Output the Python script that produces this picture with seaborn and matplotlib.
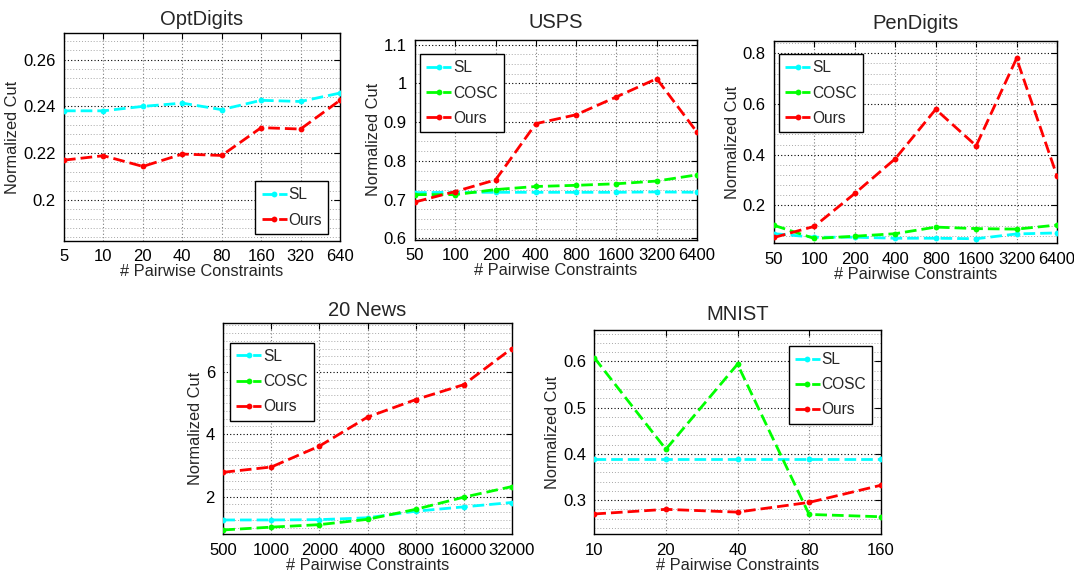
import matplotlib
matplotlib.use("Agg")
import matplotlib.pyplot as plt
import numpy as np
import pandas as pd
import seaborn as sns
from matplotlib.lines import Line2D
from matplotlib.ticker import FixedLocator, MultipleLocator

# ---------------- data ----------------
opt_x = ["5", "10", "20", "40", "80", "160", "320", "640"]
opt_sl = [0.2381, 0.2381, 0.2400, 0.2414, 0.2386, 0.2426, 0.2421, 0.2457]
opt_ours = [0.2170, 0.2189, 0.2143, 0.2196, 0.2190, 0.2309, 0.2303, 0.2426]

usps_x = ["50", "100", "200", "400", "800", "1600", "3200", "6400"]
usps_sl = [0.718, 0.719, 0.719, 0.719, 0.719, 0.719, 0.720, 0.719]
usps_cosc = [0.713, 0.713, 0.726, 0.734, 0.737, 0.741, 0.748, 0.764]
usps_ours = [0.694, 0.721, 0.751, 0.896, 0.919, 0.965, 1.012, 0.874]

pen_x = ["50", "100", "200", "400", "800", "1600", "3200", "6400"]
pen_sl = [0.088, 0.074, 0.074, 0.070, 0.070, 0.068, 0.087, 0.091]
pen_cosc = [0.121, 0.069, 0.078, 0.088, 0.114, 0.108, 0.106, 0.122]
pen_ours = [0.073, 0.117, 0.247, 0.384, 0.579, 0.435, 0.780, 0.316]

news_x = ["500", "1000", "2000", "4000", "8000", "16000", "32000"]
news_sl = [1.25, 1.25, 1.26, 1.32, 1.53, 1.67, 1.81]
news_cosc = [0.93, 1.02, 1.10, 1.27, 1.59, 1.98, 2.32]
news_ours = [2.78, 2.95, 3.62, 4.55, 5.11, 5.59, 6.75]

mnist_x = ["10", "20", "40", "80", "160"]
mnist_sl = [0.388, 0.388, 0.388, 0.388, 0.388]
mnist_cosc = [0.608, 0.410, 0.594, 0.269, 0.264]
mnist_ours = [0.270, 0.280, 0.274, 0.295, 0.332]

# y-axis tick labels per panel
opt_yticks = [0.2, 0.22, 0.24, 0.26]
usps_yticks = [0.6, 0.7, 0.8, 0.9, 1.0, 1.1]
pen_yticks = [0.2, 0.4, 0.6, 0.8]
news_yticks = [2, 4, 6]
mnist_yticks = [0.3, 0.4, 0.5, 0.6]

# ---------------- style ----------------
sns.set_style("white")
plt.rcParams["font.family"] = ["Liberation Sans", "DejaVu Sans"]

COLORS = {"SL": "#00ffff", "COSC": "#00ff00", "Ours": "#ff0000"}
LW = 2.0          # points
DASH = (4.2, 1.8) # in units of line width
MS = 4.2

W, H = 1074, 572

panels = [
    dict(title="OptDigits", ticks=opt_x, yticks=opt_yticks,
         series={"SL": opt_sl, "Ours": opt_ours},
         ylim=(0.1824, 0.2714), minor=0.004, box=(64, 33, 340, 241),
         title_gap=8, legend=("lower right", (0.957, 0.034))),
    dict(title="USPS", ticks=usps_x, yticks=usps_yticks,
         series={"SL": usps_sl, "COSC": usps_cosc, "Ours": usps_ours},
         ylim=(0.596, 1.113), minor=0.025, box=(415, 39.5, 697, 240),
         title_gap=11, legend=("upper left", (0.018, 0.927))),
    dict(title="PenDigits", ticks=pen_x, yticks=pen_yticks,
         series={"SL": pen_sl, "COSC": pen_cosc, "Ours": pen_ours},
         ylim=(0.05, 0.85), minor=0.04, box=(774, 40.7, 1057, 243.3),
         title_gap=12, legend=("upper left", (0.018, 0.934))),
    dict(title="20 News", ticks=news_x, yticks=news_yticks,
         series={"SL": news_sl, "COSC": news_cosc, "Ours": news_ours},
         ylim=(0.79, 7.56), minor=0.25, box=(223.3, 323.3, 511.7, 534.3),
         title_gap=7, legend=("upper left", (0.023, 0.908))),
    dict(title="MNIST", ticks=mnist_x, yticks=mnist_yticks,
         series={"SL": mnist_sl, "COSC": mnist_cosc, "Ours": mnist_ours},
         ylim=(0.226, 0.668), minor=0.02, box=(594.3, 330, 880.7, 534.3),
         title_gap=10, legend=("upper right", (0.971, 0.923))),
]

fig = plt.figure(figsize=(W / 100, H / 100), dpi=100)
px2pt = 72 / 100

for p in panels:
    l, t, r, b = p["box"]
    ax = fig.add_axes([l / W, 1 - b / H, (r - l) / W, (b - t) / H])

    rows = []
    for name, vals in p["series"].items():
        for i, v in enumerate(vals):
            rows.append({"pos": i, "value": v, "method": name})
    df = pd.DataFrame(rows)
    names = list(p["series"].keys())

    ax.set_axisbelow(True)
    sns.lineplot(
        data=df, x="pos", y="value", hue="method", style="method",
        hue_order=names, style_order=names,
        palette={n: COLORS[n] for n in names},
        dashes={n: DASH for n in names},
        markers={n: "o" for n in names},
        markersize=MS, markeredgewidth=0, linewidth=LW,
        sort=False, legend=False, ax=ax, zorder=3,
    )

    n = len(p["ticks"])
    ax.set_xlim(0, n - 1)
    ax.xaxis.set_major_locator(FixedLocator(range(n)))
    ax.set_xticklabels(p["ticks"])
    ax.set_ylim(*p["ylim"])
    ax.yaxis.set_major_locator(FixedLocator(p["yticks"]))
    ax.set_yticklabels([f"{v:g}" for v in p["yticks"]])
    ax.yaxis.set_minor_locator(MultipleLocator(p["minor"]))

    ax.grid(which="minor", axis="y", color="#a8a8a8", linestyle=(0, (1, 2)), linewidth=0.7)
    ax.grid(which="major", axis="y", color="black", linestyle=(0, (1, 2)), linewidth=0.8)
    ax.grid(which="major", axis="x", color="#7a7a7a", linestyle=(0, (1, 2)), linewidth=0.8)

    ax.tick_params(which="major", direction="in", length=4, width=0.8,
                   top=True, right=True, labelsize=12, pad=6, colors="black")
    ax.tick_params(which="minor", length=0)
    for s in ax.spines.values():
        s.set_color("black")
        s.set_linewidth(1.0)

    ax.set_xlabel("# Pairwise Constraints", fontsize=11.8, labelpad=0)
    ax.set_ylabel("Normalized Cut", fontsize=11.8, labelpad=2)
    ax.set_title(p["title"], fontsize=14.5, pad=p["title_gap"] * px2pt)

    handles = [
        Line2D([], [], color=COLORS[nm], linewidth=LW, dashes=DASH,
               marker="o", markersize=MS, markeredgewidth=0)
        for nm in names
    ]
    loc, anchor = p["legend"]
    leg = ax.legend(handles, names, loc=loc, bbox_to_anchor=anchor,
                    frameon=True, fancybox=False, framealpha=1,
                    edgecolor="black", fontsize=11.2, handlelength=1.6,
                    handletextpad=0.12, borderpad=0.4, labelspacing=0.66,
                    borderaxespad=0)
    leg.get_frame().set_linewidth(1.0)
    leg.set_zorder(5)

fig.savefig("out.png", dpi=100, facecolor="white")
